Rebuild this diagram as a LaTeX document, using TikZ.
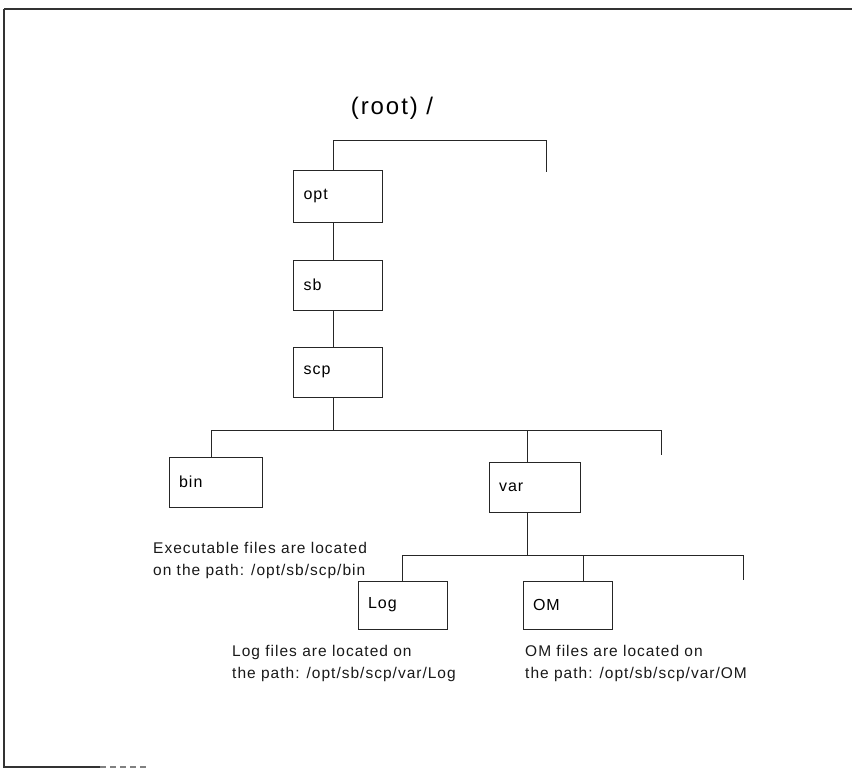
\documentclass[tikz,border=0pt]{standalone}
\usepackage{fontspec}
\setmainfont{Liberation Sans}
\newfontfamily\loosefont[LetterSpace=6.5]{Liberation Sans}
\newfontfamily\headfont[LetterSpace=8]{Liberation Sans}
\usetikzlibrary{calc}
\tikzset{
  dirbox/.style={draw=black!85, line width=0.9pt, minimum width=89pt, minimum height=50pt,
    text width=69pt, inner xsep=10pt, align=left, font=\loosefont\fontsize{16}{19}\selectfont},
  link/.style={draw=black!85, line width=0.9pt},
  note/.style={align=left, anchor=north west, inner sep=0pt,
    font=\loosefont\fontsize{15.5}{22}\selectfont, text=black!90},
  frame/.style={draw=black!80, line width=1.1pt}
}
\begin{document}
\begin{tikzpicture}[x=1pt,y=-1pt]
\useasboundingbox (0,0) rectangle (852,769);

% outer frame (open on the right, bottom edge only partly printed)
\draw[frame, line width=1.5pt] (852,9) -- (4,9);
\draw[frame] (4,9) -- (4,767) -- (100,767);
\draw[frame, black!50, dash pattern=on 6pt off 4pt] (100,767) -- (146,767);

% heading
\node[font=\headfont\fontsize{24}{28}\selectfont, inner sep=0pt] (root) at (392,108) {(root) /};

% directory boxes
\node[dirbox, minimum height=52pt] (opt) at (338,196) {opt};
\node[dirbox] (sb)  at (338,285) {sb};
\node[dirbox] (scp) at (338,372) {scp};
\node[dirbox, minimum width=93pt, text width=73pt] (bin) at (215.5,482) {bin};
\node[dirbox, minimum width=91pt, text width=71pt] (var) at (534.5,487) {var};
\node[dirbox, minimum width=89pt, minimum height=48pt] (log) at (402.5,605) {Log};
\node[dirbox, minimum height=48pt] (om)  at (567.5,605) {OM};

% free ends of the short stubs
\coordinate (rootstub) at (546,172);
\coordinate (scpstub)  at (661,455);
\coordinate (varstub)  at (743,580);

% root bracket
\draw[link] (opt.north -| 333,0) -- (333,140) -- (546,140) -- (rootstub);

% opt -> sb -> scp
\draw[link] (opt.south -| 333,0) -- (sb.north -| 333,0);
\draw[link] (sb.south -| 333,0) -- (scp.north -| 333,0);

% scp branches
\draw[link] (scp.south -| 333,0) -- (333,430);
\draw[link] (bin.north -| 211,0) -- (211,430) -- (661,430) -- (scpstub);
\draw[link] (527,430) -- (var.north -| 527,0);

% var branches
\draw[link] (var.south -| 527,0) -- (527,555);
\draw[link] (log.north -| 402,0) -- (402,555) -- (743,555) -- (varstub);
\draw[link] (583,555) -- (om.north -| 583,0);

% descriptions
\node[note] (binnote) at (153,542) {Executable files are located\\on the path: /opt/sb/scp/bin};
\node[note] (lognote) at (232,645) {Log files are located on\\the path: /opt/sb/scp/var/Log};
\node[note] (omnote)  at (525,645) {OM files are located on\\the path: /opt/sb/scp/var/OM};
\end{tikzpicture}
\end{document}
